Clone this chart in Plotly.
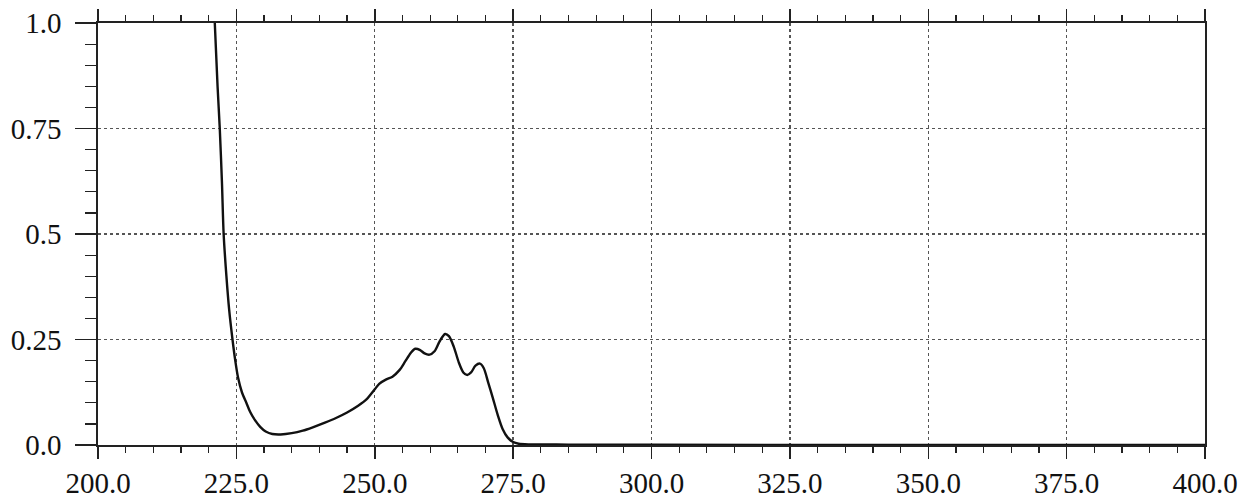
import plotly.graph_objects as go

# Wavelength (nm) and absorbance
wavelength = [220.9, 221.1, 221.6, 222.0, 222.4, 222.7, 223.2, 223.7, 224.3, 224.8,
              225.3, 226.0, 226.8, 227.5, 228.3, 229.3, 230.3, 231.5, 233.0, 235.0,
              237.0, 238.8, 241.0, 243.0, 245.0, 247.0, 248.5, 250.0, 250.8, 252.0,
              253.2, 254.5, 255.5, 256.5, 257.3, 258.2, 259.0, 259.9, 260.8, 261.7,
              262.7, 263.4, 264.3, 265.2, 266.0, 266.7, 267.4, 268.2, 269.0, 269.7,
              270.5, 271.3, 272.2, 273.1, 274.0, 275.0, 276.0, 278.0, 285.0, 300.0,
              350.0, 400.0]
absorbance = [1.05, 1.0, 0.85, 0.75, 0.62, 0.5, 0.40, 0.32, 0.25, 0.20,
              0.16, 0.125, 0.10, 0.078, 0.06, 0.043, 0.032, 0.026, 0.025, 0.028,
              0.034, 0.042, 0.053, 0.064, 0.077, 0.093, 0.108, 0.132, 0.145, 0.155,
              0.162, 0.178, 0.198, 0.218, 0.228, 0.225, 0.217, 0.214, 0.222, 0.245,
              0.263, 0.258, 0.232, 0.195, 0.172, 0.166, 0.172, 0.188, 0.193, 0.182,
              0.148, 0.113, 0.072, 0.038, 0.018, 0.007, 0.003, 0.0015, 0.001, 0.0005,
              0.0, 0.0]

x_tickvals = [200, 225, 250, 275, 300, 325, 350, 375, 400]
x_ticktext = ["200.0", "225.0", "250.0", "275.0", "300.0", "325.0", "350.0", "375.0", "400.0"]
y_tickvals = [0.0, 0.25, 0.5, 0.75, 1.0]
y_ticktext = ["0.0", "0.25", "0.5", "0.75", "1.0"]

FONT = "Liberation Serif"
TICKFONT = dict(family=FONT, size=29, color="#111111")

fig = go.Figure()
fig.add_trace(go.Scatter(
    x=wavelength, y=absorbance, mode="lines",
    line=dict(color="#111111", width=2.4, shape="spline", smoothing=0.8),
    showlegend=False, hoverinfo="skip", cliponaxis=True))

fig.update_layout(
    width=1241, height=499,
    margin=dict(l=98, r=36, t=23, b=54, autoexpand=False),
    paper_bgcolor="white", plot_bgcolor="white",
    font=dict(family=FONT, size=29, color="#111111"),
    showlegend=False,
)

fig.update_xaxes(
    range=[200, 400], tickvals=x_tickvals, ticktext=x_ticktext,
    ticks="outside", ticklen=12, tickwidth=1.5, tickcolor="#222",
    minor=dict(dtick=5, tick0=200, ticks="outside", ticklen=6, tickwidth=1.2,
               tickcolor="#222", showgrid=False),
    showline=True, linecolor="#222", linewidth=1.6, mirror="all",
    showgrid=True, gridcolor="#555", griddash="dot", gridwidth=1.3,
    zeroline=False, tickfont=TICKFONT, automargin=False, ticklabeloverflow="allow",
)
fig.update_yaxes(
    range=[0, 1], tickvals=y_tickvals, ticktext=y_ticktext,
    ticks="outside", ticklen=21, tickwidth=1.5, tickcolor="#222",
    minor=dict(dtick=0.05, tick0=0, ticks="outside", ticklen=11, tickwidth=1.2,
               tickcolor="#222", showgrid=False),
    showline=True, linecolor="#222", linewidth=1.6, mirror=True,
    showgrid=True, gridcolor="#555", griddash="dot", gridwidth=1.3,
    zeroline=False, tickfont=TICKFONT, automargin=False, ticklabelstandoff=8,
    ticklabeloverflow="allow",
)

fig.write_html(
    "out.html",
    config={"displayModeBar": False, "staticPlot": True},
    post_script="document.body.style.margin='0';document.body.style.overflow='hidden';",
)
